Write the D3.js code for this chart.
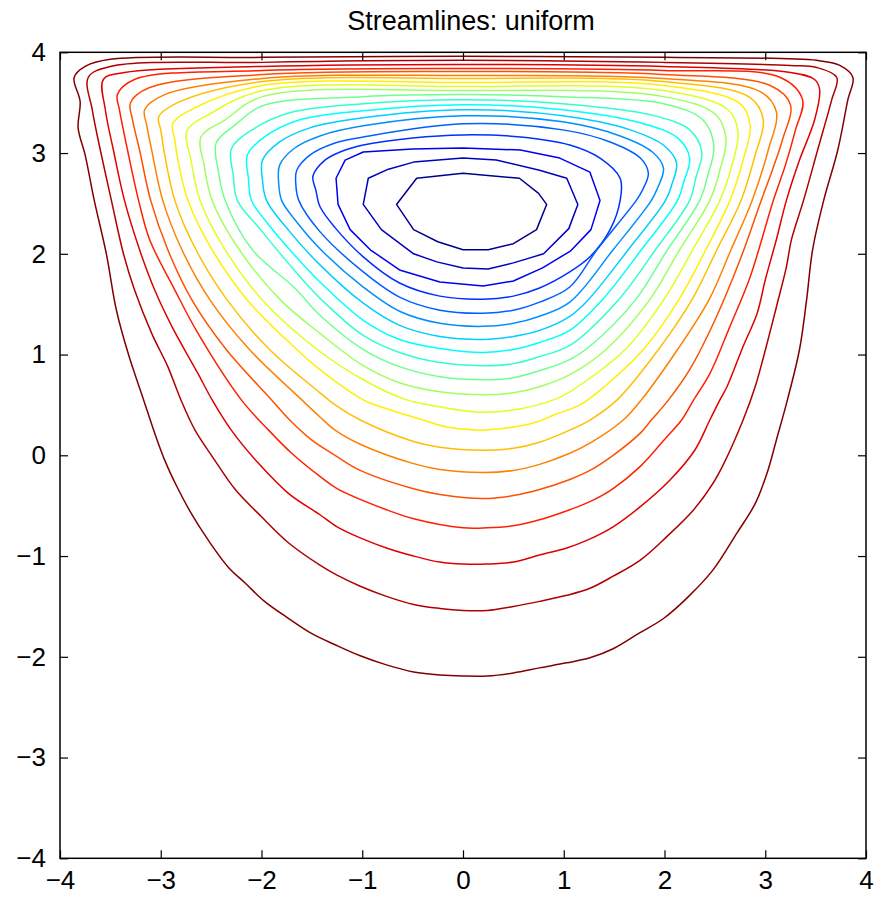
<!DOCTYPE html>
<html><head><meta charset="utf-8">
<script src="https://cdn.jsdelivr.net/npm/d3@7"></script>
<style>
body{margin:0;background:#fff}
svg text{font-family:"Liberation Sans",Arial,Helvetica,sans-serif;fill:#000}
</style>
</head><body>
<svg id="chart" width="888" height="899"></svg>
<script>
const titleText = "Streamlines: uniform";
const xTickValues = [-4,-3,-2,-1,0,1,2,3,4];
const yTickValues = [-4,-3,-2,-1,0,1,2,3,4];

// contour lines, innermost (1) to outermost (20), traced points [x, y]
const c01 = [[-0.46,2.75],[0,2.80],[0.56,2.75],[0.75,2.60],[0.83,2.49],[0.73,2.24],[0.50,2.10],[0.25,2.04],[0,2.04],[-0.25,2.12],[-0.49,2.24],[-0.66,2.49]];
const c02 = [[-0.94,2.75],[-0.74,2.84],[-0.49,2.91],[0,2.95],[0.33,2.93],[0.76,2.83],[1.03,2.75],[1.14,2.49],[1.05,2.25],[0.80,2.00],[0.50,1.91],[0.25,1.85],[0,1.86],[-0.26,1.92],[-0.49,2.00],[-0.81,2.24],[-0.99,2.49]];
const c03 = [[-1.26,2.75],[-1.17,2.93],[-0.99,3.01],[-0.50,3.04],[0,3.05],[0.57,3.03],[0.96,2.95],[1.26,2.81],[1.36,2.53],[1.27,2.24],[1.07,2.03],[0.79,1.86],[0.50,1.73],[0.20,1.68],[-0.23,1.72],[-0.63,1.84],[-0.92,2.04],[-1.12,2.24],[-1.24,2.49]];
const c04 = [[-1.49,2.77],[-1.37,2.93],[-1.22,3.01],[-0.99,3.08],[-0.50,3.15],[0,3.18],[0.57,3.16],[1.06,3.08],[1.36,2.95],[1.56,2.75],[1.56,2.53],[1.46,2.24],[1.26,1.97],[1.06,1.82],[0.76,1.66],[0.50,1.58],[0.20,1.55],[-0.23,1.58],[-0.63,1.71],[-0.99,1.97],[-1.27,2.26],[-1.42,2.47],[-1.46,2.63]];
const c05 = [[-1.65,2.83],[-1.52,2.98],[-1.27,3.10],[-0.99,3.16],[0,3.29],[0.99,3.23],[1.46,3.11],[1.76,2.95],[1.84,2.80],[1.78,2.63],[1.72,2.53],[1.33,2.04],[1.06,1.67],[0.76,1.52],[0.50,1.44],[0.20,1.41],[-0.23,1.44],[-0.63,1.57],[-0.99,1.82],[-1.42,2.22],[-1.63,2.53],[-1.66,2.70]];
const c06 = [[-1.82,2.88],[-1.67,3.05],[-1.42,3.17],[-0.99,3.27],[0,3.37],[0.99,3.31],[1.56,3.17],[1.88,3.01],[1.99,2.85],[1.93,2.65],[1.87,2.53],[1.49,2.04],[1.06,1.52],[0.76,1.38],[0.50,1.31],[0.20,1.28],[-0.23,1.31],[-0.63,1.43],[-0.99,1.67],[-1.42,2.05],[-1.67,2.34],[-1.80,2.53],[-1.83,2.71]];
const c07 = [[-1.99,2.93],[-1.82,3.11],[-1.52,3.25],[-0.99,3.35],[0,3.43],[0.99,3.37],[1.66,3.23],[2.00,3.07],[2.12,2.90],[2.07,2.68],[2.01,2.53],[1.64,2.04],[1.24,1.54],[1.06,1.38],[0.76,1.24],[0.50,1.18],[0.20,1.15],[-0.23,1.18],[-0.63,1.29],[-0.99,1.51],[-1.42,1.89],[-1.72,2.22],[-1.95,2.53],[-1.99,2.73]];
const c08 = [[-2.14,2.98],[-1.97,3.16],[-1.62,3.33],[-0.99,3.42],[0,3.48],[0.99,3.43],[1.76,3.30],[2.13,3.15],[2.25,2.95],[2.19,2.71],[2.13,2.53],[1.77,2.04],[1.38,1.54],[1.06,1.24],[0.76,1.12],[0.50,1.05],[0.20,1.02],[-0.23,1.06],[-0.63,1.15],[-0.99,1.34],[-1.42,1.72],[-1.72,2.04],[-1.97,2.34],[-2.10,2.53],[-2.13,2.75]];
const c09 = [[-2.30,3.04],[-2.11,3.22],[-1.72,3.40],[-0.99,3.49],[0,3.53],[0.99,3.49],[1.86,3.38],[2.25,3.23],[2.37,3.01],[2.31,2.75],[2.25,2.53],[1.91,2.04],[1.54,1.54],[1.06,1.09],[0.76,0.98],[0.50,0.91],[0.20,0.89],[-0.23,0.92],[-0.63,1.02],[-0.99,1.19],[-1.42,1.56],[-1.72,1.89],[-2.01,2.24],[-2.24,2.53],[-2.28,2.78]];
const c10 = [[-2.45,3.10],[-2.26,3.28],[-1.99,3.47],[-0.99,3.56],[0,3.58],[0.99,3.56],[1.99,3.49],[2.38,3.33],[2.49,3.07],[2.43,2.78],[2.35,2.53],[2.03,2.04],[1.71,1.54],[1.28,1.10],[1.06,0.95],[0.76,0.84],[0.50,0.77],[0.20,0.75],[-0.23,0.78],[-0.63,0.88],[-0.99,1.05],[-1.42,1.39],[-1.67,1.66],[-2.09,2.04],[-2.36,2.53],[-2.43,2.83]];
const c11 = [[-2.60,3.16],[-2.36,3.33],[-1.99,3.56],[0,3.62],[1.99,3.56],[2.51,3.38],[2.61,3.14],[2.55,2.83],[2.45,2.53],[2.15,2.04],[1.85,1.54],[1.42,1.05],[1.06,0.80],[0.76,0.68],[0.50,0.62],[0.20,0.60],[-0.23,0.63],[-0.63,0.72],[-0.99,0.89],[-1.42,1.21],[-1.81,1.54],[-2.22,2.04],[-2.49,2.53],[-2.57,2.88]];
const c12 = [[-2.74,3.22],[-2.51,3.39],[-1.99,3.62],[0,3.66],[1.99,3.62],[2.63,3.43],[2.73,3.21],[2.67,2.88],[2.55,2.53],[2.28,2.04],[1.99,1.54],[1.61,1.05],[1.06,0.63],[0.90,0.55],[0.50,0.45],[0.14,0.43],[-0.33,0.50],[-0.56,0.55],[-0.99,0.75],[-1.42,1.03],[-1.99,1.54],[-2.36,2.04],[-2.61,2.53],[-2.70,2.93]];
const c13 = [[-2.88,3.29],[-2.66,3.45],[-1.99,3.67],[0,3.70],[1.99,3.67],[2.75,3.49],[2.85,3.27],[2.78,2.93],[2.65,2.53],[2.41,2.04],[2.14,1.54],[1.79,1.05],[1.39,0.67],[1.16,0.50],[0.90,0.40],[0.73,0.33],[0.43,0.27],[0.14,0.25],[-0.16,0.28],[-0.46,0.37],[-0.72,0.45],[-0.99,0.55],[-1.42,0.85],[-1.65,1.05],[-2.14,1.54],[-2.49,2.04],[-2.73,2.53],[-2.83,2.93],[-2.86,3.13]];
const c14 = [[-3.02,3.36],[-2.81,3.51],[-1.99,3.71],[0,3.74],[1.99,3.71],[2.85,3.55],[2.98,3.33],[2.90,2.98],[2.76,2.53],[2.52,2.04],[2.27,1.54],[1.94,1.05],[1.53,0.55],[1.26,0.35],[1.06,0.25],[0.76,0.13],[0.50,0.07],[0.20,0.05],[-0.23,0.08],[-0.50,0.14],[-1.02,0.35],[-1.27,0.50],[-1.42,0.62],[-1.92,1.05],[-2.34,1.54],[-2.65,2.04],[-2.86,2.53],[-2.96,2.98],[-3.00,3.23]];
const c15 = [[-3.16,3.43],[-2.96,3.58],[-1.99,3.74],[0,3.77],[1.99,3.74],[2.95,3.61],[3.11,3.41],[3.03,3.03],[2.87,2.53],[2.66,2.04],[2.44,1.54],[2.13,1.05],[1.77,0.55],[1.59,0.35],[1.26,0.12],[1.06,0.02],[0.76,-0.09],[0.50,-0.15],[0.20,-0.17],[-0.23,-0.14],[-0.50,-0.08],[-1.02,0.11],[-1.27,0.25],[-1.42,0.38],[-1.60,0.55],[-2.12,1.05],[-2.51,1.54],[-2.79,2.04],[-2.98,2.53],[-3.09,3.03],[-3.14,3.28]];
const c16 = [[-3.30,3.50],[-3.11,3.65],[-1.99,3.78],[0,3.81],[1.99,3.78],[3.05,3.67],[3.25,3.48],[3.17,3.13],[3.07,2.83],[2.96,2.53],[2.75,1.94],[2.50,1.34],[2.25,0.85],[2.04,0.55],[1.87,0.35],[1.76,0.22],[1.49,0.00],[1.26,-0.15],[1.06,-0.24],[0.76,-0.34],[0.50,-0.40],[0.20,-0.43],[-0.23,-0.39],[-0.50,-0.33],[-1.02,-0.15],[-1.27,0.00],[-1.50,0.15],[-1.72,0.35],[-1.90,0.55],[-2.35,1.05],[-2.69,1.54],[-2.93,2.04],[-3.10,2.53],[-3.21,3.03],[-3.28,3.33]];
const c17 = [[-3.43,3.58],[-3.26,3.73],[-1.99,3.82],[0,3.84],[1.99,3.82],[3.15,3.75],[3.37,3.53],[3.30,3.23],[3.20,2.88],[3.08,2.53],[2.85,1.77],[2.65,1.28],[2.45,0.81],[2.29,0.55],[2.17,0.35],[2.02,0.18],[1.76,-0.11],[1.49,-0.33],[1.26,-0.46],[1.06,-0.54],[0.76,-0.64],[0.50,-0.70],[0.24,-0.72],[0,-0.72],[-0.49,-0.63],[-0.76,-0.54],[-1.25,-0.33],[-1.42,-0.21],[-1.70,0.02],[-1.93,0.25],[-2.20,0.55],[-2.63,1.21],[-2.86,1.64],[-3.11,2.14],[-3.22,2.53],[-3.33,3.03],[-3.41,3.43]];
const c18 = [[-3.57,3.73],[-3.36,3.80],[-1.99,3.86],[0,3.88],[1.99,3.86],[3.25,3.80],[3.49,3.73],[3.54,3.63],[3.49,3.33],[3.34,2.93],[3.21,2.53],[3.11,2.14],[3.00,1.74],[2.92,1.41],[2.78,1.08],[2.62,0.68],[2.55,0.55],[2.45,0.35],[2.30,0.05],[2.05,-0.25],[1.76,-0.51],[1.49,-0.71],[1.24,-0.84],[1.03,-0.92],[0.76,-0.99],[0.50,-1.06],[0.24,-1.08],[0,-1.08],[-0.23,-1.06],[-0.49,-1.00],[-0.76,-0.92],[-1.02,-0.82],[-1.25,-0.71],[-1.42,-0.59],[-1.73,-0.38],[-2.03,-0.08],[-2.30,0.25],[-2.49,0.55],[-2.63,0.81],[-2.89,1.28],[-3.06,1.64],[-3.21,2.04],[-3.36,2.53],[-3.47,3.03],[-3.55,3.43]];
const c19 = [[-3.72,3.75],[-3.50,3.86],[-1.99,3.90],[0,3.92],[1.99,3.90],[3.25,3.87],[3.51,3.85],[3.71,3.75],[3.66,3.53],[3.52,3.03],[3.38,2.53],[3.26,2.14],[3.21,1.87],[3.11,1.47],[3.01,1.08],[2.90,0.68],[2.78,0.35],[2.59,-0.08],[2.48,-0.28],[2.29,-0.54],[2.02,-0.81],[1.76,-1.04],[1.49,-1.20],[1.26,-1.32],[1.03,-1.39],[0.76,-1.45],[0.50,-1.50],[0.24,-1.54],[0,-1.54],[-0.23,-1.52],[-0.49,-1.48],[-0.76,-1.40],[-1.02,-1.30],[-1.25,-1.19],[-1.42,-1.09],[-1.73,-0.87],[-2.00,-0.61],[-2.26,-0.34],[-2.49,-0.01],[-2.66,0.25],[-2.80,0.55],[-2.93,0.88],[-3.09,1.21],[-3.26,1.64],[-3.37,2.00],[-3.49,2.53],[-3.60,3.03],[-3.68,3.43]];
const c20 = [[-3.50,3.93],[-1.99,3.95],[0,3.96],[1.99,3.95],[3.51,3.92],[3.74,3.87],[3.87,3.75],[3.82,3.53],[3.72,3.03],[3.58,2.53],[3.47,2.04],[3.41,1.54],[3.34,1.05],[3.22,0.55],[3.11,0.15],[3.02,-0.17],[2.90,-0.48],[2.72,-0.77],[2.48,-1.14],[2.24,-1.40],[1.99,-1.62],[1.74,-1.77],[1.49,-1.92],[1.26,-2.01],[1.03,-2.06],[0.76,-2.11],[0.50,-2.16],[0.24,-2.19],[0,-2.19],[-0.23,-2.18],[-0.49,-2.15],[-0.76,-2.08],[-1.02,-1.99],[-1.27,-1.88],[-1.50,-1.77],[-1.73,-1.62],[-1.97,-1.45],[-2.16,-1.27],[-2.33,-1.11],[-2.53,-0.84],[-2.69,-0.59],[-2.84,-0.31],[-2.96,-0.05],[-3.06,0.22],[-3.17,0.55],[-3.32,1.00],[-3.44,1.44],[-3.54,2.00],[-3.66,2.53],[-3.75,2.98],[-3.82,3.25],[-3.80,3.51],[-3.86,3.75],[-3.75,3.86]];

const contours = [c01,c02,c03,c04,c05,c06,c07,c08,c09,c10,c11,c12,c13,c14,c15,c16,c17,c18,c19,c20];

// MATLAB-style jet colormap (64 entries)
function jet64(k){
  const u = j => (j < 1 || j > 47) ? 0 : (j <= 16 ? j/16 : (j <= 31 ? 1 : (48 - j)/16));
  return d3.rgb(Math.round(255*u(k-24)), Math.round(255*u(k-8)), Math.round(255*u(k+8))).formatHex();
}

const svg = d3.select("#chart");
const x = d3.scaleLinear().domain([-4,4]).range([60,866]);
const y = d3.scaleLinear().domain([-4,4]).range([858.3,52.3]);

svg.append("clipPath").attr("id","plotclip").append("rect")
  .attr("x",60).attr("y",52.3).attr("width",806).attr("height",806);

const smooth = d3.line().x(d=>x(d[0])).y(d=>y(d[1])).curve(d3.curveCatmullRomClosed.alpha(0.5));
const poly = d3.line().x(d=>x(d[0])).y(d=>y(d[1])).curve(d3.curveLinearClosed);
const n = contours.length;
svg.append("g").attr("clip-path","url(#plotclip)")
  .selectAll("path").data(contours).join("path")
  .attr("d", (d,i)=> i < 3 ? poly(d) : smooth(d))
  .attr("fill","none")
  .attr("stroke",(d,i)=>jet64(Math.min(64, Math.floor(i/(n-1)*64)+1)))
  .attr("stroke-width",1.5)
  .attr("stroke-linejoin","round");

const fs = "26px";
function styleAxis(g){
  g.selectAll(".domain").remove();
  g.selectAll(".tick line").attr("stroke","#000").attr("stroke-width",1.2);
  g.selectAll("text").style("font-size",fs).attr("fill","#000");
}
svg.append("g").attr("transform",`translate(0,${y(-4)})`)
  .call(d3.axisBottom(x).tickValues(xTickValues).tickSizeInner(-8).tickSizeOuter(0).tickPadding(12))
  .call(styleAxis);
svg.append("g").attr("transform",`translate(0,${y(4)})`)
  .call(d3.axisTop(x).tickValues(xTickValues).tickSizeInner(-8).tickSizeOuter(0).tickFormat(""))
  .call(styleAxis);
svg.append("g").attr("transform",`translate(${x(-4)},0)`)
  .call(d3.axisLeft(y).tickValues(yTickValues).tickSizeInner(-8).tickSizeOuter(0).tickPadding(14))
  .call(styleAxis);
svg.append("g").attr("transform",`translate(${x(4)},0)`)
  .call(d3.axisRight(y).tickValues(yTickValues).tickSizeInner(-8).tickSizeOuter(0).tickFormat(""))
  .call(styleAxis);

svg.append("rect").attr("x",x(-4)).attr("y",y(4)).attr("width",x(4)-x(-4)).attr("height",y(-4)-y(4))
  .attr("fill","none").attr("stroke","#000").attr("stroke-width",1.5);

svg.append("text").attr("x",x(0)+8).attr("y",30).attr("text-anchor","middle")
  .style("font-size","27px").text(titleText);
</script>
</body></html>
